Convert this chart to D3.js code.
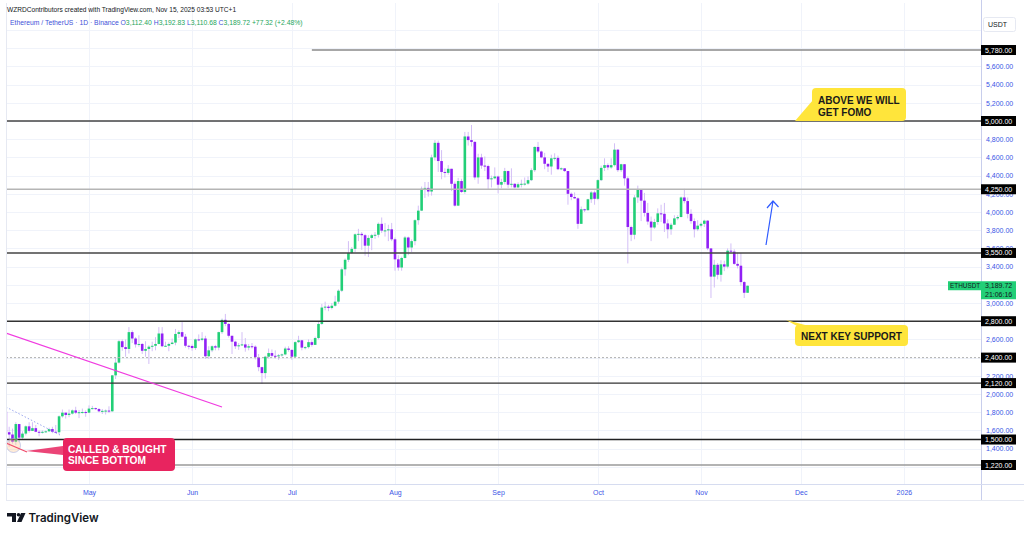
<!DOCTYPE html>
<html>
<head>
<meta charset="utf-8">
<script src="https://cdn.jsdelivr.net/npm/d3@7"></script>
<style>
  body { margin: 0; background: #fff; }
  svg { display: block; font-family: "Liberation Sans", Arial, sans-serif; }
</style>
</head>
<body>
<svg id="chart" width="1024" height="534"></svg>
<script>
// ETH/USDT daily candles, 2025-04-06 .. 2025-11-15
var startDay = Date.UTC(2025, 3, 6);
var firstOpen = 1806;

var closes = [
  // Apr 6-30
  1580,1555,1475,1670,1520,1565,1645,1595,1625,1585,1575,1585,1590,1615,1585,1580,1755,1795,1770,1785,1820,1795,1800,1802,1795,
  // May
  1840,1845,1835,1810,1815,1818,1810,2205,2345,2580,2515,2495,2680,2610,2545,2550,2475,2495,2520,2530,2550,2665,2525,2530,2550,2565,2660,2680,2630,2530,2528,
  // Jun
  2505,2600,2595,2610,2415,2480,2525,2510,2680,2815,2770,2640,2575,2525,2535,2545,2510,2525,2520,2405,2295,2230,2410,2450,2420,2415,2425,2435,2500,2485,
  // Jul
  2410,2570,2590,2510,2515,2570,2540,2615,2770,2950,2960,2945,2970,3015,3135,3370,3475,3550,3595,3755,3760,3745,3630,3715,3745,3750,3870,3795,3798,3810,3700,
  // Aug
  3480,3390,3495,3720,3610,3680,3910,4015,4255,4265,4225,4600,4760,4560,4440,4430,4475,4310,4070,4340,4220,4830,4790,4770,4380,4600,4510,4505,4360,4370,4390,
  // Sep
  4300,4330,4450,4300,4310,4270,4305,4310,4312,4350,4460,4715,4665,4600,4530,4500,4590,4595,4470,4480,4450,4200,4165,4150,3870,4030,4020,4140,4215,4145,
  // Oct
  4350,4485,4515,4490,4515,4685,4460,4525,4370,3835,3750,4160,4245,4125,3990,3895,3830,3890,3985,3980,3875,3810,3860,3930,3945,4160,4120,3980,3900,3810,3850,
  // Nov 1-15
  3870,3905,3600,3290,3420,3310,3425,3400,3575,3565,3430,3410,3230,3112.40,3189.72
];

var highs = [
  1820,1640,1620,1690,1670,1590,1655,1690,1690,1660,1600,1600,1600,1630,1640,1660,1765,1830,1790,1830,1830,1860,1825,1840,1820,
  1875,1870,1850,1845,1835,1830,1865,2210,2405,2595,2600,2600,2735,2700,2625,2645,2560,2580,2535,2575,2625,2735,2735,2575,2565,2610,2715,2700,2790,2660,2540,
  2545,2610,2655,2680,2640,2525,2535,2540,2685,2830,2880,2780,2640,2585,2560,2680,2615,2550,2560,2535,2440,2300,2420,2500,2490,2480,2440,2445,2520,2525,
  2490,2580,2640,2595,2525,2600,2590,2630,2790,2990,3015,2980,3000,3080,3150,3390,3490,3680,3615,3765,3815,3780,3760,3745,3760,3780,3885,3940,3880,3860,3880,
  3720,3525,3510,3735,3730,3700,3920,4070,4280,4330,4330,4630,4790,4785,4680,4480,4515,4470,4335,4375,4365,4880,4880,4956,4780,4640,4640,4610,4520,4400,4490,
  4400,4365,4485,4455,4480,4315,4325,4355,4380,4390,4480,4720,4770,4675,4650,4525,4630,4645,4620,4490,4480,4450,4215,4215,4160,4060,4035,4145,4230,4235,
  4360,4510,4590,4535,4590,4755,4690,4530,4525,4390,3850,4185,4290,4250,4210,4100,3950,3925,4040,4080,4100,3920,3880,3965,3965,4170,4255,4160,4030,3930,3910,
  3885,3915,3910,3600,3475,3440,3470,3465,3600,3655,3590,3555,3550,3240,3192.83
];

var lows = [
  1540,1420,1455,1440,1470,1505,1545,1575,1600,1580,1535,1565,1575,1585,1570,1570,1560,1740,1730,1745,1775,1780,1735,1785,1750,
  1790,1830,1825,1800,1780,1775,1790,1805,2165,2335,2475,2410,2445,2560,2510,2520,2440,2410,2330,2470,2480,2545,2515,2520,2470,2545,2535,2615,2620,2510,2490,
  2475,2485,2580,2580,2385,2385,2460,2480,2480,2660,2745,2620,2440,2495,2485,2530,2465,2480,2500,2380,2250,2110,2170,2390,2400,2390,2375,2410,2425,2465,
  2375,2400,2560,2480,2490,2500,2520,2540,2600,2760,2920,2910,2930,2960,2990,3120,3300,3450,3540,3560,3680,3585,3520,3505,3580,3705,3720,3770,3730,3680,3680,
  3355,3355,3355,3490,3525,3560,3635,3860,4010,4155,4170,4180,4565,4440,4360,4380,4410,4230,4060,4065,4210,4200,4730,4720,4355,4310,4475,4450,4250,4270,4360,
  4205,4260,4305,4265,4270,4260,4265,4270,4290,4300,4340,4440,4650,4590,4470,4440,4410,4565,4460,4460,4440,4080,4130,4145,3815,3870,4000,4015,4100,4080,
  4130,4340,4450,4460,4475,4500,4440,4440,4290,3435,3680,3700,4100,3900,3950,3860,3680,3815,3860,3890,3780,3710,3750,3860,3910,3940,4095,3930,3870,3720,3790,
  3830,3835,3580,3055,3170,3260,3235,3350,3380,3545,3420,3380,3190,3055,3110.68
];

var gridPrices  = d3.range(1000, 6200, 200);
var axisPrices  = d3.range(1400, 5800, 200);
var levelPrices = [5780, 5000, 4250, 3550, 2800, 2400, 2120, 1500, 1220];
var monthLabels = ['May', 'Jun', 'Jul', 'Aug', 'Sep', 'Oct', 'Nov', 'Dec', '2026'];
var monthStarts = [4, 5, 6, 7, 8, 9, 10, 11, 12].map(function (m) { return new Date(Date.UTC(2025, m, 1)); });
var lastPrice = 3189.72;

var svg = d3.select('#chart');
var W = 1024, H = 534;
var plotL = 6, plotR = 981, plotT = 3, plotB = 484;

var x = d3.scaleUtc()
  .domain([new Date(Date.UTC(2025, 4, 1)), new Date(Date.UTC(2025, 10, 1))])
  .range([89, 701]);
var y = d3.scaleLinear().domain([1220, 5000]).range([465, 121]);

var candles = closes.map(function (c, i) {
  var o = i ? closes[i - 1] : firstOpen;
  return {
    date: new Date(startDay + i * 864e5),
    open: o, close: c,
    high: Math.max(highs[i], o, c),
    low: Math.min(lows[i], o, c)
  };
});

svg.append('rect').attr('width', W).attr('height', H).attr('fill', '#fff');

svg.append('defs').append('clipPath').attr('id', 'plot')
  .append('rect').attr('x', plotL).attr('y', plotT)
  .attr('width', plotR - plotL).attr('height', plotB - plotT);

var plot = svg.append('g').attr('clip-path', 'url(#plot)');

// grid
plot.selectAll('.hg').data(gridPrices).enter().append('line')
  .attr('x1', plotL).attr('x2', plotR)
  .attr('y1', function (d) { return Math.round(y(d)) + 0.5; })
  .attr('y2', function (d) { return Math.round(y(d)) + 0.5; })
  .attr('stroke', '#f0f3fa');
plot.selectAll('.vg').data(monthStarts).enter().append('line')
  .attr('x1', function (d) { return Math.round(x(d)) + 0.5; })
  .attr('x2', function (d) { return Math.round(x(d)) + 0.5; })
  .attr('y1', plotT).attr('y2', plotB)
  .attr('stroke', '#f0f3fa');

// candles
var up = '#22cf77', down = '#9120f5', wick = '#d3bff6';
var bw = 2.6;
plot.selectAll('.wick').data(candles).enter().append('line')
  .attr('x1', function (d) { return x(d.date); })
  .attr('x2', function (d) { return x(d.date); })
  .attr('y1', function (d) { return y(d.high); })
  .attr('y2', function (d) { return y(d.low); })
  .attr('stroke', wick).attr('stroke-width', 1);
plot.selectAll('.body').data(candles).enter().append('rect')
  .attr('x', function (d) { return x(d.date) - bw / 2; })
  .attr('width', bw)
  .attr('y', function (d) { return y(Math.max(d.open, d.close)); })
  .attr('height', function (d) { return Math.max(1, Math.abs(y(d.open) - y(d.close))); })
  .attr('fill', function (d) { return d.close >= d.open ? up : down; });

// horizontal levels
var levelStyle = {
  5780: { c: '#8a8a8a', w: 1.3, from: new Date(Date.UTC(2025, 6, 7)) },
  5000: { c: '#444', w: 1.5 },
  4250: { c: '#b5b5b5', w: 1.5 },
  3550: { c: '#444', w: 1.5 },
  2800: { c: '#333', w: 1.5 },
  2400: { c: '#b0b0b0', w: 1, dash: '2,2' },
  2120: { c: '#333', w: 1.3 },
  1500: { c: '#222', w: 1.5 },
  1220: { c: '#9a9a9a', w: 1.3 }
};
plot.selectAll('.lvl').data(levelPrices).enter().append('line')
  .attr('x1', function (d) { return levelStyle[d].from ? x(levelStyle[d].from) : plotL; })
  .attr('x2', plotR)
  .attr('y1', function (d) { return y(d); })
  .attr('y2', function (d) { return y(d); })
  .attr('stroke', function (d) { return levelStyle[d].c; })
  .attr('stroke-width', function (d) { return levelStyle[d].w; })
  .attr('stroke-dasharray', function (d) { return levelStyle[d].dash || null; });

// drawings
plot.append('line')
  .attr('x1', 6).attr('y1', 333).attr('x2', 222).attr('y2', 407)
  .attr('stroke', '#f03ce0').attr('stroke-width', 1.3);
plot.append('line')
  .attr('x1', 6).attr('y1', 407).attr('x2', 60).attr('y2', 435)
  .attr('stroke', '#9aa6ee').attr('stroke-width', 1).attr('stroke-dasharray', '1.5,2');
plot.append('circle').attr('cx', 13.5).attr('cy', 445.5).attr('r', 7)
  .attr('fill', 'rgba(255,200,140,0.35)').attr('stroke', 'rgba(170,180,230,0.8)').attr('stroke-width', 0.8);

// blue arrow
svg.append('path')
  .attr('d', 'M766,245 L773,201 M767,208 L773,201 L778.5,207')
  .attr('fill', 'none').attr('stroke', '#2f5bff').attr('stroke-width', 1.2)
  .attr('stroke-linejoin', 'round');

// pink callout
svg.append('path').attr('d', 'M63,446 L26,451 L63,455 Z').attr('fill', '#e8245f').attr('opacity', 0.85);
svg.append('line').attr('x1', 6).attr('y1', 443).attr('x2', 27).attr('y2', 452)
  .attr('stroke', '#f04b6a').attr('stroke-width', 1.2);
svg.append('rect').attr('x', 63).attr('y', 438).attr('width', 112).attr('height', 33).attr('rx', 4)
  .attr('fill', '#e8245f');
svg.append('text').attr('x', 68).attr('y', 452.5).attr('fill', '#fff')
  .attr('font-size', 10.2).attr('font-weight', 700).text('CALLED & BOUGHT');
svg.append('text').attr('x', 68).attr('y', 463.5).attr('fill', '#fff')
  .attr('font-size', 10.2).attr('font-weight', 700).text('SINCE BOTTOM');

// yellow callouts
var yellow = '#ffe53b';
svg.append('path').attr('d', 'M813,100 L795,121 L822,121 Z').attr('fill', yellow);
svg.append('rect').attr('x', 812).attr('y', 88).attr('width', 94).attr('height', 33).attr('rx', 4).attr('fill', yellow);
svg.append('text').attr('x', 818).attr('y', 104).attr('font-size', 10).attr('font-weight', 700)
  .attr('fill', '#1a1a1a').text('ABOVE WE WILL');
svg.append('text').attr('x', 818).attr('y', 116).attr('font-size', 10).attr('font-weight', 700)
  .attr('fill', '#1a1a1a').text('GET FOMO');

svg.append('path').attr('d', 'M786,320 L797,326 L809,326 Z').attr('fill', yellow);
svg.append('rect').attr('x', 795).attr('y', 325).attr('width', 113).attr('height', 21).attr('rx', 4).attr('fill', yellow);
svg.append('text').attr('x', 851.5).attr('y', 339.5).attr('text-anchor', 'middle')
  .attr('font-size', 10).attr('font-weight', 700).attr('fill', '#1a1a1a').text('NEXT KEY SUPPORT');

// frame
svg.append('line').attr('x1', plotL + 0.5).attr('x2', plotL + 0.5).attr('y1', plotT).attr('y2', 500).attr('stroke', '#e6e9f2');
svg.append('line').attr('x1', plotR + 0.5).attr('x2', plotR + 0.5).attr('y1', 0).attr('y2', 500).attr('stroke', '#c8ceec');
svg.append('line').attr('x1', plotL).attr('x2', W).attr('y1', plotB + 0.5).attr('y2', plotB + 0.5).attr('stroke', '#d6dcf0');
svg.append('line').attr('x1', plotL).attr('x2', W).attr('y1', 500.5).attr('y2', 500.5).attr('stroke', '#e6e9f2');

// price axis
var yAxis = svg.append('g').attr('transform', 'translate(' + plotR + ',0)')
  .call(d3.axisRight(y).tickValues(axisPrices).tickFormat(d3.format(',.2f')).tickSize(0).tickPadding(5));
yAxis.select('.domain').remove();
yAxis.selectAll('text').attr('fill', '#3b55e6').attr('font-size', 7)
  .attr('font-family', '"Liberation Sans", Arial, sans-serif');

// time axis
var xAxis = svg.append('g').attr('transform', 'translate(0,' + plotB + ')')
  .call(d3.axisBottom(x).tickValues(monthStarts)
    .tickFormat(function (d, i) { return monthLabels[i]; }).tickSize(0).tickPadding(6));
xAxis.select('.domain').remove();
xAxis.selectAll('text').attr('fill', '#3b55e6').attr('font-size', 7)
  .attr('font-family', '"Liberation Sans", Arial, sans-serif');

// level price tags
var tags = svg.selectAll('.tag').data(levelPrices).enter().append('g')
  .attr('transform', function (d) { return 'translate(' + plotR + ',' + y(d) + ')'; });
tags.append('rect').attr('x', 0).attr('y', -5).attr('width', 35).attr('height', 10).attr('fill', '#000');
tags.append('text').attr('x', 4).attr('y', 2.5).attr('fill', '#fff').attr('font-size', 7)
  .text(function (d) { return d3.format(',.2f')(d); });

// last price tag
var ly = y(lastPrice);
svg.append('rect').attr('x', 948).attr('y', ly - 4.5).attr('width', 33).attr('height', 9).attr('fill', '#22cf77');
svg.append('rect').attr('x', plotR).attr('y', ly - 4.5).attr('width', 35).attr('height', 18).attr('fill', '#22cf77');
svg.append('text').attr('x', 950).attr('y', ly + 2.3).attr('font-size', 6.4).attr('fill', '#131722').text('ETHUSDT');
svg.append('text').attr('x', 985).attr('y', ly + 2.5).attr('font-size', 7).attr('fill', '#131722').text(d3.format(',.2f')(lastPrice));
svg.append('text').attr('x', 985).attr('y', ly + 11).attr('font-size', 7).attr('fill', '#131722').text('21:06:16');

// currency box
svg.append('rect').attr('x', 983.5).attr('y', 17.5).attr('width', 32).attr('height', 14).attr('rx', 2)
  .attr('fill', '#fff').attr('stroke', '#e6e9f2');
svg.append('text').attr('x', 988).attr('y', 27).attr('font-size', 7).attr('fill', '#131722').text('USDT');

// header
svg.append('text').attr('x', 7).attr('y', 11.5).attr('font-size', 6.6).attr('fill', '#131722')
  .text('WZRDContributors created with TradingView.com, Nov 15, 2025 03:53 UTC+1');
var hdr = svg.append('text').attr('x', 10).attr('y', 25).attr('font-size', 6.8);
hdr.append('tspan').attr('fill', '#3f51d8').text('Ethereum / TetherUS · 1D · Binance  ');
var last = candles[candles.length - 1];
var fmt = d3.format(',.2f');
[['O', last.open], ['H', last.high], ['L', last.low], ['C', last.close]].forEach(function (p) {
  hdr.append('tspan').attr('fill', '#3f51d8').text(p[0]);
  hdr.append('tspan').attr('fill', '#26a65b').text(fmt(p[1]) + '  ');
});
var chg = last.close - closes[closes.length - 2];
hdr.append('tspan').attr('fill', '#26a65b')
  .text('+' + fmt(chg) + ' (+' + (chg / closes[closes.length - 2] * 100).toFixed(2) + '%)');

// logo
var logo = svg.append('g').attr('fill', '#131722');
logo.append('path').attr('d', 'M7,513 H16 V522 H12 V516.5 H7 Z');
logo.append('circle').attr('cx', 18.5).attr('cy', 514.8).attr('r', 1.8);
logo.append('path').attr('d', 'M21,513 H25.5 L21.5,522 H17 Z');
svg.append('text').attr('x', 28.5).attr('y', 522).attr('font-size', 11.5).attr('font-weight', 600)
  .attr('fill', '#131722').attr('font-family', 'Inter, "Liberation Sans", Arial, sans-serif').text('TradingView');
</script>
</body>
</html>
